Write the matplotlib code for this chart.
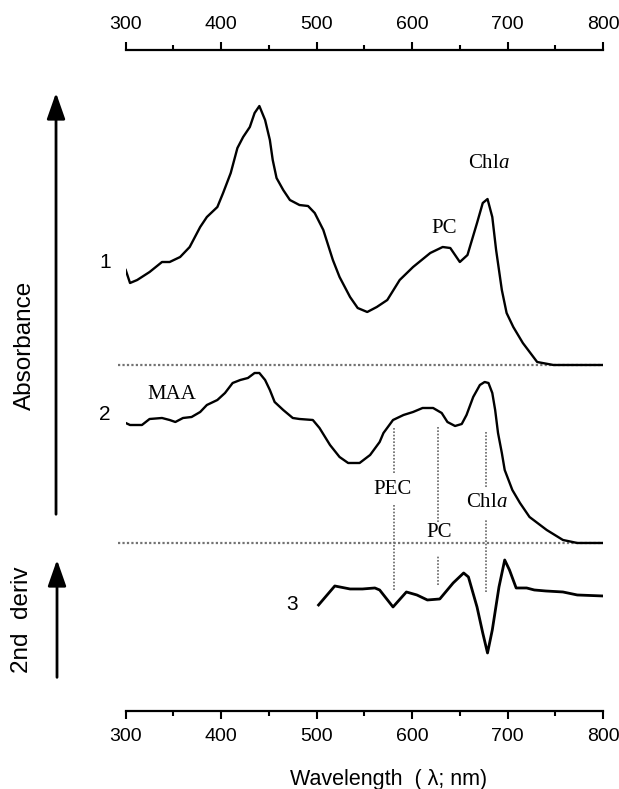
import matplotlib
matplotlib.use("Agg")
import matplotlib.pyplot as plt
from matplotlib.patches import FancyArrowPatch
from matplotlib.ticker import MultipleLocator

plt.rcParams["font.family"] = ["Liberation Sans", "DejaVu Sans"]
plt.rcParams["mathtext.fontset"] = "custom"
plt.rcParams["mathtext.rm"] = "Liberation Serif"
plt.rcParams["mathtext.it"] = "Liberation Serif:italic"

# spektrum 1 (absorbans, yapay birim)
lam1 = [300, 304.5, 312, 325, 338, 346, 357, 367, 378, 385, 396, 402, 410, 417, 423,
        430, 435, 440, 446, 451, 454, 458, 465, 472, 482, 491, 498, 507, 517, 524,
        535, 543, 553, 563, 574, 587, 601, 619, 632, 640, 650, 658, 668, 674, 679,
        684, 688, 694, 699, 706, 716, 731, 748, 800]
abs1 = [0.95, 0.82, 0.85, 0.93, 1.03, 1.03, 1.08, 1.18, 1.38, 1.48, 1.58, 1.72, 1.92, 2.17, 2.28,
        2.38, 2.52, 2.59, 2.45, 2.25, 2.05, 1.87, 1.75, 1.65, 1.60, 1.59, 1.52, 1.35, 1.05, 0.88,
        0.68, 0.57, 0.53, 0.58, 0.65, 0.85, 0.98, 1.12, 1.18, 1.17, 1.03, 1.10, 1.42, 1.62, 1.66,
        1.48, 1.15, 0.75, 0.52, 0.38, 0.22, 0.03, 0.0, 0.0]

# spektrum 2
lam2 = [300, 304.5, 317, 325, 338, 346, 352, 360, 369, 378, 385, 396, 404, 412, 420,
        428, 435, 440, 446, 451, 456, 465, 475, 482, 496, 503, 514, 524, 533, 545,
        556, 566, 570, 580, 591, 601, 611, 622, 631, 637, 645, 652, 657, 664, 671,
        676, 680, 684, 687, 690, 694, 697, 705, 713, 723, 741, 758, 773, 800]
abs2 = [1.20, 1.18, 1.18, 1.24, 1.25, 1.23, 1.21, 1.25, 1.26, 1.31, 1.38, 1.43, 1.50, 1.60, 1.63,
        1.65, 1.70, 1.70, 1.63, 1.53, 1.41, 1.33, 1.25, 1.24, 1.23, 1.15, 0.98, 0.86, 0.80, 0.80,
        0.88, 1.01, 1.10, 1.23, 1.28, 1.31, 1.35, 1.35, 1.30, 1.21, 1.17, 1.19, 1.28, 1.46, 1.58,
        1.61, 1.60, 1.50, 1.33, 1.10, 0.90, 0.73, 0.53, 0.40, 0.26, 0.13, 0.03, 0.0, 0.0]

# spektrum 3 (ikinci türev)
lam3 = [502, 519, 535, 548, 561, 566, 580, 594, 605, 616, 629, 643, 654, 659, 668,
        674, 679, 684, 691, 697, 702, 709, 720, 728, 740, 758, 773, 800]
der3 = [-0.15, 0.04, 0.01, 0.01, 0.02, 0.0, -0.17, -0.02, -0.05, -0.10, -0.09, 0.07, 0.17, 0.13, -0.17,
        -0.43, -0.63, -0.40, 0.03, 0.30, 0.20, 0.02, 0.02, 0.0, -0.01, -0.02, -0.05, -0.06]

# dikey işaret çizgileri (PEC, PC, Chl a)
isaret_lam = [581, 627, 677]
isaret_parca = [[(2.84, 2.38), (2.06, 1.21)],
                [(2.84, 1.89), (1.56, 1.26)],
                [(2.79, 2.24), (1.91, 1.19)]]

ofset1, ofset2, ofset3 = 3.46, 1.68, 1.21

fig = plt.figure(figsize=(6.19, 7.89), dpi=100)
ax = fig.add_axes([0.2031, 0.0989, 0.7711, 0.8377])

# taban çizgileri
for o in (ofset1, ofset2):
    ax.hlines(o, 292, 800, color="0.45", linestyle=(0, (1, 1)), lw=1.6, clip_on=False)

ax.plot(lam1, [v + ofset1 for v in abs1], color="black", lw=1.7)
ax.plot(lam2, [v + ofset2 for v in abs2], color="black", lw=1.7)
ax.plot(lam3, [v + ofset3 for v in der3], color="black", lw=2.0)

for lam, parcalar in zip(isaret_lam, isaret_parca):
    for y0, y1 in parcalar:
        ax.vlines(lam, y1, y0, color="0.4", linestyle=(0, (1, 1)), lw=1.2)

serif = ["Liberation Serif", "DejaVu Serif"]
ax.text(680, 5.48, r"Chl$\it{a}$", family=serif, fontsize=15, ha="center", va="center")
ax.text(634, 4.83, "PC", family=serif, fontsize=15, ha="center", va="center")
ax.text(348, 3.16, "MAA", family=serif, fontsize=15, ha="center", va="center")
ax.text(579, 2.21, "PEC", family=serif, fontsize=15, ha="center", va="center")
ax.text(678, 2.08, r"Chl$\it{a}$", family=serif, fontsize=15, ha="center", va="center")
ax.text(628, 1.78, "PC", family=serif, fontsize=15, ha="center", va="center")

for etiket, xx, yy in [("1", 279, 4.49), ("2", 278, 2.96), ("3", 474, 1.06)]:
    ax.text(xx, yy, etiket, fontsize=15, ha="center", va="center", clip_on=False)

ax.set_xlim(300, 800)
ax.set_ylim(0, 6.61)
ax.xaxis.set_major_locator(MultipleLocator(100))
ax.xaxis.set_minor_locator(MultipleLocator(50))
ax.set_yticks([])
for s in ("left", "right"):
    ax.spines[s].set_visible(False)
for s in ("top", "bottom"):
    ax.spines[s].set_linewidth(1.6)
ax.tick_params(axis="x", which="both", top=True, labeltop=True, direction="out", width=1.5,
               labelsize=14)
ax.tick_params(axis="x", which="major", length=6, pad=6)
ax.tick_params(axis="x", which="minor", length=3.6)

ax.set_xlabel("Wavelength  ( λ; nm)", fontsize=15.5, va="center")
ax.xaxis.set_label_coords(0.5 + 24 / 477, -69 / 661)

# sol oklar
fig.patches.append(FancyArrowPatch((0.0905, 0.3447), (0.0905, 0.8859), transform=fig.transFigure,
                                   arrowstyle="-|>,head_length=0.4,head_width=0.14",
                                   mutation_scale=40, color="black", lw=2))
fig.patches.append(FancyArrowPatch((0.0921, 0.138), (0.0921, 0.294), transform=fig.transFigure,
                                   arrowstyle="-|>,head_length=0.4,head_width=0.14",
                                   mutation_scale=40, color="black", lw=2))
fig.text(0.0404, 0.5627, "Absorbance", rotation=90, fontsize=17.5, ha="center", va="center")
fig.text(0.0355, 0.2142, "2nd  deriv", rotation=90, fontsize=17.5, ha="center", va="center")

fig.savefig("out.png", dpi=100)
